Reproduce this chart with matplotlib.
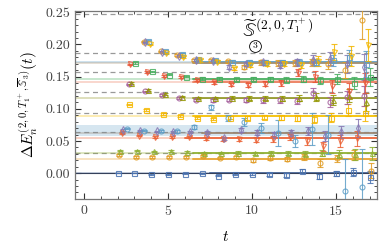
import numpy as np
import matplotlib
matplotlib.use("Agg")
from matplotlib import pyplot as plt

plt.rcParams['font.family'] = 'serif'
plt.rcParams['font.serif'] = ['cmr10', 'DejaVu Serif']
plt.rcParams['mathtext.fontset'] = 'cm'
plt.rcParams['axes.unicode_minus'] = False
plt.rcParams['axes.formatter.use_mathtext'] = True

# non-interacting levels (dashed)
free_levels = [0.0316, 0.0635, 0.094, 0.126, 0.157, 0.187, 0.247]

# effective energies per operator
t_a = np.arange(2, 18)   # 2..17
t_b = np.arange(2, 17)   # 2..16
t_c = np.arange(3, 18)   # 3..17
t_d = np.arange(4, 18)   # 4..17

y_sq_blue = [0.000, 0.000, -0.002, -0.002, -0.001, 0.000, -0.004, -0.002, -0.002, -0.002,
             -0.003, 0.003, -0.005, 0.000, 0.002, -0.006]
e_sq_blue = [0.0005, 0.0005, 0.0006, 0.0007, 0.0008, 0.001, 0.0012, 0.0014, 0.0016, 0.002,
             0.0025, 0.003, 0.0035, 0.004, 0.006, 0.010]

y_circ_orange = [0.028, 0.025, 0.025, 0.025, 0.025, 0.026, 0.023, 0.025, 0.020, 0.023,
                 0.022, 0.025, 0.016, 0.023, 0.028, 0.004]
e_circ_orange = [0.001, 0.001, 0.001, 0.0012, 0.0014, 0.0016, 0.0018, 0.002, 0.0025, 0.003,
                 0.0035, 0.004, 0.006, 0.005, 0.008, 0.012]

y_tri_green = [0.035, 0.035, 0.034, 0.034, 0.033, 0.032, 0.031, 0.032, 0.031, 0.031,
               0.031, 0.030, 0.031, 0.030, 0.029, 0.031]
e_tri_green = [0.001, 0.001, 0.001, 0.0012, 0.0014, 0.0016, 0.0018, 0.002, 0.0025, 0.003,
               0.0035, 0.004, 0.005, 0.006, 0.008, 0.010]

y_tri_red = [0.062, 0.058, 0.056, 0.056, 0.056, 0.054, 0.053, 0.053, 0.052, 0.053,
             0.056, 0.050, 0.042, 0.050, 0.054]
e_tri_red = [0.001, 0.001, 0.0012, 0.0014, 0.0016, 0.002, 0.0025, 0.003, 0.0035, 0.004,
             0.005, 0.006, 0.007, 0.009, 0.012]

y_dia_purple = [0.067, 0.066, 0.065, 0.064, 0.064, 0.063, 0.054, 0.067, 0.063, 0.060,
                0.062, 0.066, 0.058, 0.064, 0.070]
e_dia_purple = [0.001, 0.001, 0.0012, 0.0014, 0.0016, 0.002, 0.0025, 0.003, 0.0035, 0.004,
                0.005, 0.006, 0.008, 0.010, 0.014]

y_circ_lblue = [0.069, 0.066, 0.066, 0.065, 0.072, 0.102, 0.086, 0.080, 0.070, 0.062,
                0.050, 0.068, 0.060, -0.028, -0.022]
e_circ_lblue = [0.001, 0.0012, 0.0015, 0.002, 0.003, 0.004, 0.005, 0.006, 0.008, 0.020,
                0.010, 0.025, 0.030, 0.050, 0.060]

y_sq_yellow = [0.107, 0.098, 0.092, 0.089, 0.086, 0.084, 0.086, 0.086, 0.087, 0.087,
               0.086, 0.084, 0.086, 0.098, 0.093]
e_sq_yellow = [0.001, 0.001, 0.0012, 0.0014, 0.0016, 0.002, 0.0025, 0.003, 0.0035, 0.004,
               0.005, 0.006, 0.007, 0.009, 0.012]

y_circ_magenta = [0.138, 0.127, 0.121, 0.117, 0.114, 0.113, 0.114, 0.114, 0.113, 0.113,
                  0.112, 0.124, 0.110, 0.118, 0.120]
e_circ_magenta = [0.001, 0.001, 0.0012, 0.0014, 0.0016, 0.002, 0.0025, 0.003, 0.0035, 0.004,
                  0.005, 0.008, 0.008, 0.010, 0.015]

y_tri_olive = [0.140, 0.129, 0.123, 0.119, 0.117, 0.117, 0.117, 0.117, 0.117, 0.116,
               0.117, 0.118, 0.114, 0.120, 0.110]
e_tri_olive = [0.001, 0.001, 0.0012, 0.0014, 0.0016, 0.002, 0.0025, 0.003, 0.0035, 0.004,
               0.005, 0.006, 0.008, 0.010, 0.014]

y_tri_red_hi = [0.169, 0.157, 0.151, 0.149, 0.144, 0.141, 0.138, 0.137, 0.139, 0.140,
                0.156, 0.150, 0.135, 0.128, 0.140]
e_tri_red_hi = [0.001, 0.001, 0.0012, 0.0014, 0.0016, 0.002, 0.0025, 0.003, 0.0035, 0.004,
                0.005, 0.008, 0.010, 0.012, 0.016]

y_sq_green = [0.171, 0.158, 0.153, 0.150, 0.147, 0.147, 0.146, 0.146, 0.146, 0.145,
              0.146, 0.144, 0.146, 0.140, 0.150]
e_sq_green = [0.001, 0.001, 0.0012, 0.0014, 0.0016, 0.002, 0.0025, 0.003, 0.0035, 0.004,
              0.005, 0.006, 0.008, 0.010, 0.014]

y_circ_orange_hi = [0.204, 0.189, 0.183, 0.176, 0.175, 0.174, 0.165, 0.172, 0.171, 0.171,
                    0.172, 0.170, 0.160, 0.238]
e_circ_orange_hi = [0.001, 0.0012, 0.0014, 0.0016, 0.002, 0.0025, 0.003, 0.0035, 0.004, 0.005,
                    0.006, 0.008, 0.012, 0.030]

y_sq_lblue_hi = [0.206, 0.190, 0.185, 0.177, 0.175, 0.173, 0.172, 0.172, 0.172, 0.173,
                 0.172, 0.175, 0.180, 0.170]
e_sq_lblue_hi = [0.001, 0.0012, 0.0014, 0.0016, 0.002, 0.0025, 0.003, 0.0035, 0.004, 0.005,
                 0.006, 0.008, 0.012, 0.020]

y_dia_purple_hi = [0.203, 0.188, 0.182, 0.176, 0.174, 0.165, 0.170, 0.172, 0.168, 0.172,
                   0.176, 0.178, 0.170, 0.165]
e_dia_purple_hi = [0.001, 0.0012, 0.0014, 0.0016, 0.002, 0.0025, 0.003, 0.0035, 0.004, 0.005,
                   0.008, 0.010, 0.014, 0.020]

y_tri_yellow_hi = [0.200, 0.186, 0.180, 0.175, 0.173, 0.163, 0.168, 0.170, 0.170, 0.168,
                   0.174, 0.188, 0.182, 0.199]
e_tri_yellow_hi = [0.001, 0.0012, 0.0014, 0.0016, 0.002, 0.0025, 0.003, 0.0035, 0.004, 0.005,
                   0.008, 0.012, 0.016, 0.025]

# fit results: value, half width
fit_vals = [0.000, 0.022, 0.031, 0.054, 0.062, 0.0885, 0.116, 0.142, 0.146, 0.172, 0.171]
fit_errs = [0.001, 0.0015, 0.0012, 0.0015, 0.0015, 0.0015, 0.0015, 0.002, 0.0015, 0.002, 0.002]
lblue_band = (0.0575, 0.0745)

# styles (colour, marker, t-offset)
series = [
    (t_a, y_sq_blue, e_sq_blue, '#4A72B0', 's', 0.0),
    (t_a, y_circ_orange, e_circ_orange, '#E19C24', 'o', 0.07),
    (t_a, y_tri_green, e_tri_green, '#8FB032', '^', 0.15),
    (t_b, y_tri_red, e_tri_red, '#EB6235', 'v', 0.25),
    (t_b, y_dia_purple, e_dia_purple, '#8778B3', 'd', 0.32),
    (t_b, y_circ_lblue, e_circ_lblue, '#5D9EC7', 'o', 0.55),
    (t_c, y_sq_yellow, e_sq_yellow, '#F5B800', 's', -0.3),
    (t_c, y_circ_magenta, e_circ_magenta, '#A5609D', 'o', -0.35),
    (t_c, y_tri_olive, e_tri_olive, '#929600', '^', -0.2),
    (t_c, y_tri_red_hi, e_tri_red_hi, '#E95536', 'v', -0.25),
    (t_c, y_sq_green, e_sq_green, '#47AE5F', 's', 0.05),
    (t_d, y_circ_orange_hi, e_circ_orange_hi, '#E19C24', 'o', -0.45),
    (t_d, y_sq_lblue_hi, e_sq_lblue_hi, '#5D9EC7', 's', -0.2),
    (t_d, y_dia_purple_hi, e_dia_purple_hi, '#8778B3', 'd', -0.35),
    (t_d, y_tri_yellow_hi, e_tri_yellow_hi, '#F2B600', 'v', -0.1),
]
fit_colors = ['#3B5B92', '#E8A230', '#8FB032', '#EB6235', '#9C8570', '#F5C000',
              '#8F9420', '#EB7A5A', '#47AE5F', '#5D9EC7', '#A89070']
fit_start = [7.5, 6.5, 6.5, 6.0, 7.0, 6.5, 6.5, 6.5, 6.5, 6.5, 6.5]

fig = plt.figure(figsize=(3.9, 2.48), dpi=100)
ax = fig.add_axes([0.192, 0.198, 0.775, 0.758])
xlo, xhi = -0.55, 17.45

for v in free_levels:
    ax.axhline(v, color='#999999', ls=(0, (4, 3)), lw=0.9, zorder=1)

ax.axhspan(lblue_band[0], lblue_band[1], color='#5D9EC7', alpha=0.25, lw=0, zorder=1)
for v, e, c, s in zip(fit_vals, fit_errs, fit_colors, fit_start):
    ax.axhline(v, color=c, alpha=0.3, lw=1.4, zorder=1)
    ax.fill_between([s, xhi], v - e, v + e, color=c, alpha=0.35, lw=0, zorder=2)
    ax.plot([s, xhi], [v, v], color=c, lw=1.1, zorder=2)
ax.axhline(0.0, color='#34405A', lw=0.8, zorder=2)

for t, y, e, c, m, off in series:
    ax.errorbar(np.asarray(t) + off, y, yerr=e, fmt=m, color=c, mfc='none', ms=3.6,
                mew=0.8, elinewidth=0.8, capsize=2, capthick=0.8, alpha=0.85, zorder=3)

# operator label with circled subscript
ax.text(9.4, 0.2115, r'$\widetilde{\mathbb{S}}^{(2,0,T_1^+)}$', fontsize=14,
        ha='left', va='baseline', zorder=5,
        bbox=dict(boxstyle='square,pad=0.05', fc='white', ec='none'))
ax.text(10.15, 0.1975, '3', fontsize=7, ha='center', va='center', zorder=6)
ax.plot([10.15], [0.1975], marker='o', ms=8.5, mfc='white', mec='black', mew=0.6, zorder=5)

ax.set_xlim(xlo, xhi)
ax.set_ylim(-0.04, 0.252)
ax.set_xticks([0, 5, 10, 15])
ax.set_xticks(np.arange(0, 18), minor=True)
ax.set_yticks([0.0, 0.05, 0.10, 0.15, 0.20, 0.25])
ax.set_yticklabels(['0.00', '0.05', '0.10', '0.15', '0.20', '0.25'])
ax.set_yticks(np.arange(-0.04, 0.252, 0.01), minor=True)
ax.tick_params(which='both', direction='in', top=True, right=True, labelsize=10,
               color='#333333', labelcolor='#444444')
ax.tick_params(which='major', length=4)
ax.tick_params(which='minor', length=2)
for sp in ax.spines.values():
    sp.set_color('#777777')
    sp.set_linewidth(0.9)

ax.set_xlabel(r'$t$', fontsize=11, labelpad=9)
ax.set_ylabel(r'$\Delta E_n^{(2,0,T_1^+,\overline{\mathbb{S}}_3)}(t)$', fontsize=11)

fig.savefig('out.png', dpi=100)
